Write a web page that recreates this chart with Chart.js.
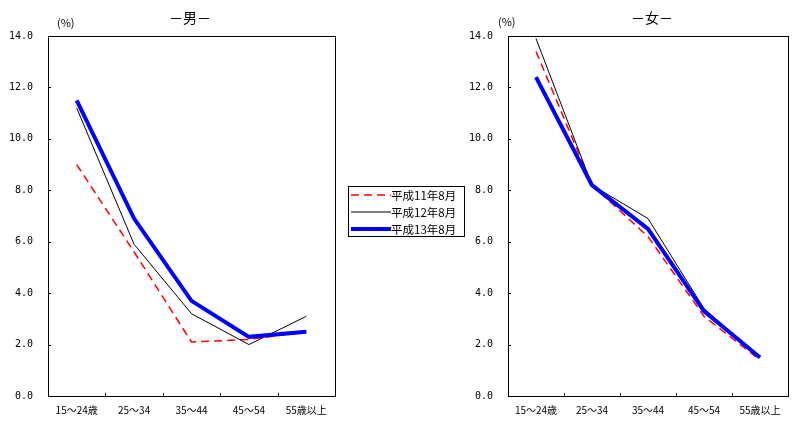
<!DOCTYPE html>
<html>
<head>
<meta charset="utf-8">
<script src="https://cdn.jsdelivr.net/npm/chart.js@4/dist/chart.umd.min.js"></script>
<style>
  body { margin: 0; background: #fff; }
  #wrap { position: relative; width: 807px; height: 421px; overflow: hidden; font-family: 'Noto Sans CJK JP', sans-serif; }
  canvas { position: absolute; top: 0; }
  .ttl { position: absolute; font-size: 14px; line-height: 14px; transform: translateX(-50%); white-space: nowrap; }
  .pct { position: absolute; font-size: 11px; line-height: 11px; white-space: nowrap; }
  #legend { position: absolute; left: 348px; top: 186px; width: 115px; height: 49px; border: 1px solid #000; font-size: 11.5px; }
  #legend .row { position: absolute; left: 0; height: 14px; display: flex; align-items: center; }
  #legend svg { display: block; }
</style>
</head>
<body>
<div id="wrap">
  <canvas id="c-male" width="345" height="421" style="left:0"></canvas>
  <canvas id="c-female" width="347" height="421" style="left:460px"></canvas>
  <div class="ttl" style="left:190px;top:10px">－男－</div>
  <div class="ttl" style="left:652px;top:10px">－女－</div>
  <div class="pct" style="left:57px;top:17px">(%)</div>
  <div class="pct" style="left:498px;top:16px">(%)</div>
  <div id="legend"></div>
</div>
<script>
const categories = ['15～24歳', '25～34', '35～44', '45～54', '55歳以上']
const seriesNames = ['平成11年8月', '平成12年8月', '平成13年8月']

// 男
const maleH11 = [9.0, 5.6, 2.1, 2.2, 2.5]
const maleH12 = [11.2, 5.9, 3.2, 2.0, 3.1]
const maleH13 = [11.5, 6.9, 3.7, 2.3, 2.5]

// 女
const femaleH11 = [13.4, 8.2, 6.2, 3.1, 1.4]
const femaleH12 = [13.9, 8.2, 6.9, 3.4, 1.5]
const femaleH13 = [12.4, 8.2, 6.5, 3.3, 1.5]

const yTicks = [0, 2, 4, 6, 8, 10, 12, 14]

const styles = [
  { color: '#ff0000', width: 1.5, dash: [8, 5], order: 3 },
  { color: '#000000', width: 1, dash: [], order: 2 },
  { color: '#0000ff', width: 4, dash: [], order: 1 }
]

// 枠と内向きの目盛り
const frameTicks = {
  id: 'frameTicks',
  afterDraw(chart) {
    const { ctx: c, chartArea: a, scales: { x, y } } = chart
    c.save()
    c.strokeStyle = '#000'
    c.lineWidth = 1
    c.strokeRect(Math.round(a.left) + 0.5, Math.round(a.top) + 0.5, Math.round(a.right - a.left), Math.round(a.bottom - a.top))
    c.beginPath()
    yTicks.forEach(v => {
      const py = Math.round(y.getPixelForValue(v)) + 0.5
      c.moveTo(a.left, py); c.lineTo(a.left + 3, py)
    })
    for (let i = 0; i < categories.length - 1; i++) {
      const px = Math.round((x.getPixelForTick(i) + x.getPixelForTick(i + 1)) / 2) + 0.5
      c.moveTo(px, a.bottom); c.lineTo(px, a.bottom - 3)
    }
    c.stroke()
    c.restore()
  }
}

function makeChart(id, values, padRight) {
  return new Chart(document.getElementById(id), {
    type: 'line',
    plugins: [frameTicks],
    data: {
      labels: categories,
      datasets: values.map((d, i) => ({
        label: seriesNames[i],
        data: d,
        borderColor: styles[i].color,
        borderWidth: styles[i].width,
        borderDash: styles[i].dash,
        order: styles[i].order,
        pointRadius: 0,
        tension: 0,
        fill: false
      }))
    },
    options: {
      responsive: false,
      animation: false,
      layout: { padding: { top: 36, right: padRight, left: 0, bottom: 0 } },
      plugins: { legend: { display: false }, tooltip: { enabled: false } },
      scales: {
        x: {
          offset: true,
          grid: { display: false, drawTicks: false },
          border: { display: false },
          ticks: { color: '#000', padding: 8, maxRotation: 0, autoSkip: false, font: { family: "'Noto Sans CJK JP'", size: 10 } },
          afterFit(s) { s.height = 25 }
        },
        y: {
          min: 0, max: 14,
          afterBuildTicks(s) { s.ticks = yTicks.map(v => ({ value: v })) },
          grid: { display: false, drawTicks: false },
          border: { display: false },
          ticks: { color: '#000', padding: 15, font: { family: "'DejaVu Sans Mono'", size: 10 }, callback: v => v.toFixed(1) },
          afterFit(s) { s.width = 48 }
        }
      }
    }
  })
}

makeChart('c-male', [maleH11, maleH12, maleH13], 10)
makeChart('c-female', [femaleH11, femaleH12, femaleH13], 19)

// 凡例
const legend = document.getElementById('legend')
const rowTops = [1, 18, 35]
seriesNames.forEach((name, i) => {
  const st = styles[i]
  const row = document.createElement('div')
  row.className = 'row'
  row.style.top = rowTops[i] + 'px'
  row.innerHTML =
    `<svg width="42" height="14"><line x1="2" y1="7" x2="42" y2="7" stroke="${st.color}" stroke-width="${st.width}" ${st.dash.length ? `stroke-dasharray="${st.dash.join(',')}"` : ''}/></svg>` +
    `<span>${name}</span>`
  legend.appendChild(row)
})
</script>
</body>
</html>
